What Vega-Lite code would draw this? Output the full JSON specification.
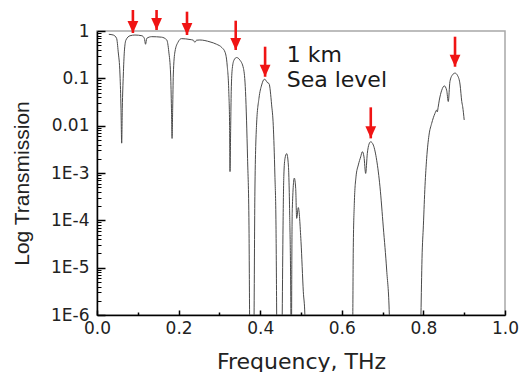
{
  "$schema": "https://vega.github.io/schema/vega-lite/v6.json",
  "width": 408,
  "height": 284,
  "autosize": "none",
  "padding": {"left": 97, "top": 31, "right": 15, "bottom": 57},
  "background": "white",
  "config": {"view": {"stroke": "#a8a8a8", "strokeWidth": 1.5}, "axis": {"grid": false}},
  "datasets": {
    "curve": [
      {"f": 0.029, "t": 0.851}, {"f": 0.040, "t": 0.822}, {"f": 0.048, "t": 0.700}, {"f": 0.052, "t": 0.363},
      {"f": 0.0564, "t": 0.1175}, {"f": 0.0588, "t": 0.0234}, {"f": 0.0605, "t": 0.00427}, {"f": 0.062, "t": 0.0234},
      {"f": 0.0645, "t": 0.1175}, {"f": 0.067, "t": 0.363}, {"f": 0.071, "t": 0.646}, {"f": 0.081, "t": 0.794},
      {"f": 0.093, "t": 0.822}, {"f": 0.110, "t": 0.794}, {"f": 0.116, "t": 0.700}, {"f": 0.119, "t": 0.525},
      {"f": 0.122, "t": 0.700}, {"f": 0.134, "t": 0.759}, {"f": 0.158, "t": 0.741}, {"f": 0.171, "t": 0.646},
      {"f": 0.176, "t": 0.363}, {"f": 0.1805, "t": 0.1175}, {"f": 0.1825, "t": 0.0234}, {"f": 0.184, "t": 0.00537},
      {"f": 0.1855, "t": 0.0234}, {"f": 0.187, "t": 0.1175}, {"f": 0.191, "t": 0.363}, {"f": 0.199, "t": 0.589},
      {"f": 0.207, "t": 0.69}, {"f": 0.228, "t": 0.661}, {"f": 0.236, "t": 0.64}, {"f": 0.240, "t": 0.575},
      {"f": 0.244, "t": 0.64}, {"f": 0.252, "t": 0.646}, {"f": 0.277, "t": 0.589}, {"f": 0.293, "t": 0.525},
      {"f": 0.306, "t": 0.447}, {"f": 0.314, "t": 0.355}, {"f": 0.319, "t": 0.191}, {"f": 0.323, "t": 0.0525},
      {"f": 0.325, "t": 0.0102}, {"f": 0.326, "t": 0.00107}, {"f": 0.3277, "t": 0.0102}, {"f": 0.329, "t": 0.0525},
      {"f": 0.3316, "t": 0.162}, {"f": 0.336, "t": 0.245}, {"f": 0.342, "t": 0.275}, {"f": 0.350, "t": 0.245},
      {"f": 0.359, "t": 0.162}, {"f": 0.364, "t": 0.0525}, {"f": 0.369, "t": 0.00204}, {"f": 0.3725, "t": 0.000079},
      {"f": 0.374, "t": 0.000001}, {"f": 0.376, "t": 0.00000001}, {"f": 0.383, "t": 0.00000001}, {"f": 0.385, "t": 0.000001},
      {"f": 0.387, "t": 0.000398}, {"f": 0.391, "t": 0.0102}, {"f": 0.397, "t": 0.038}, {"f": 0.4036, "t": 0.0724},
      {"f": 0.410, "t": 0.0955}, {"f": 0.414, "t": 0.091}, {"f": 0.417, "t": 0.0822}, {"f": 0.4216, "t": 0.0776},
      {"f": 0.428, "t": 0.0275}, {"f": 0.432, "t": 0.0102}, {"f": 0.436, "t": 0.00091}, {"f": 0.4387, "t": 0.000079},
      {"f": 0.4404, "t": 0.000001}, {"f": 0.442, "t": 0.00000001}, {"f": 0.452, "t": 0.00000001}, {"f": 0.454, "t": 0.000001},
      {"f": 0.456, "t": 0.000079}, {"f": 0.458, "t": 0.00091}, {"f": 0.4608, "t": 0.00204}, {"f": 0.465, "t": 0.00257},
      {"f": 0.469, "t": 0.00148}, {"f": 0.472, "t": 0.000178}, {"f": 0.4752, "t": 0.000001}, {"f": 0.4758, "t": 0.00000001},
      {"f": 0.4764, "t": 0.00000001}, {"f": 0.477, "t": 0.000001}, {"f": 0.4787, "t": 0.000178}, {"f": 0.4836, "t": 0.00078},
      {"f": 0.487, "t": 0.00047}, {"f": 0.4894, "t": 0.00011}, {"f": 0.4934, "t": 0.000186}, {"f": 0.500, "t": 0.0000355},
      {"f": 0.5057, "t": 0.0000031}, {"f": 0.5095, "t": 0.000001}, {"f": 0.512, "t": 0.00000001}, {"f": 0.625, "t": 0.00000001},
      {"f": 0.627, "t": 0.000001}, {"f": 0.628, "t": 0.00002}, {"f": 0.6307, "t": 0.000229}, {"f": 0.6348, "t": 0.00083},
      {"f": 0.6405, "t": 0.00148}, {"f": 0.6463, "t": 0.00219}, {"f": 0.6503, "t": 0.00282}, {"f": 0.6544, "t": 0.00219},
      {"f": 0.6585, "t": 0.00098}, {"f": 0.6625, "t": 0.00257}, {"f": 0.6667, "t": 0.00407}, {"f": 0.6708, "t": 0.00457},
      {"f": 0.6773, "t": 0.00389}, {"f": 0.6855, "t": 0.00186}, {"f": 0.6936, "t": 0.00051}, {"f": 0.7017, "t": 0.000072},
      {"f": 0.710, "t": 0.0000089}, {"f": 0.7165, "t": 0.000001}, {"f": 0.72, "t": 0.00000001}, {"f": 0.79, "t": 0.00000001},
      {"f": 0.794, "t": 0.000001}, {"f": 0.7966, "t": 0.0000155}, {"f": 0.800, "t": 0.000079}, {"f": 0.804, "t": 0.00055},
      {"f": 0.808, "t": 0.00204}, {"f": 0.8137, "t": 0.0063}, {"f": 0.8203, "t": 0.0112}, {"f": 0.8284, "t": 0.0182},
      {"f": 0.8326, "t": 0.0214}, {"f": 0.834, "t": 0.0195}, {"f": 0.836, "t": 0.024}, {"f": 0.839, "t": 0.0347},
      {"f": 0.845, "t": 0.0562}, {"f": 0.8513, "t": 0.0692}, {"f": 0.857, "t": 0.0562}, {"f": 0.861, "t": 0.0324},
      {"f": 0.865, "t": 0.0851}, {"f": 0.871, "t": 0.1175}, {"f": 0.8775, "t": 0.129}, {"f": 0.884, "t": 0.1135},
      {"f": 0.890, "t": 0.0724}, {"f": 0.894, "t": 0.0324}, {"f": 0.8963, "t": 0.0251}, {"f": 0.900, "t": 0.0132}
    ],
    "arrows": [
      {"f": 0.088, "top": 2.78, "tip": 0.908},
      {"f": 0.146, "top": 2.78, "tip": 1.05},
      {"f": 0.2206, "top": 2.56, "tip": 0.822},
      {"f": 0.340, "top": 1.65, "tip": 0.397},
      {"f": 0.412, "top": 0.466, "tip": 0.108},
      {"f": 0.671, "top": 0.0244, "tip": 0.00539},
      {"f": 0.8775, "top": 0.758, "tip": 0.176}
    ],
    "notes": [
      {"f": 0.465, "t": 0.2244, "label": "1 km"},
      {"f": 0.465, "t": 0.0645, "label": "Sea level"}
    ]
  },
  "layer": [
    {
      "data": {"name": "curve"},
      "mark": {"type": "line", "color": "#4a4a4a", "strokeWidth": 1, "clip": true, "interpolate": "monotone"},
      "encoding": {
        "x": {"field": "f", "type": "quantitative",
          "scale": {"domain": [0, 1], "nice": false, "zero": false},
          "axis": {"orient": "bottom", "values": [0, 0.2, 0.4, 0.6, 0.8, 1.0], "format": ".1f", "labelFlush": false,
            "tickSize": -5, "tickColor": "#000", "tickWidth": 1.5, "domainColor": "#000", "domainWidth": 1.5,
            "labelFont": "DejaVu Sans", "labelFontSize": 17, "labelColor": "#222", "labelBaseline": "alphabetic", "labelPadding": 23,
            "title": "Frequency, THz", "titleFont": "DejaVu Sans", "titleFontSize": 22, "titleFontWeight": "normal", "titleColor": "#222",
            "titleBaseline": "alphabetic", "titleX": 204, "titleY": 53}},
        "y": {"field": "t", "type": "quantitative",
          "scale": {"type": "log", "domain": [0.000001, 1], "nice": false},
          "axis": {"orient": "left", "values": [1, 0.1, 0.01, 0.001, 0.0001, 0.00001, 0.000001],
            "labelExpr": "datum.value > 0.5 ? '1' : datum.value > 0.05 ? '0.1' : datum.value > 0.005 ? '0.01' : '1E-' + round(-log(datum.value)/LN10)",
            "labelOverlap": false, "tickSize": -8, "tickColor": "#000", "tickWidth": 1.5, "domainColor": "#000", "domainWidth": 1.5,
            "labelFont": "DejaVu Sans", "labelFontSize": 17, "labelColor": "#222", "labelPadding": 16,
            "title": "Log Transmission", "titleFont": "Liberation Sans", "titleFontSize": 21, "titleFontWeight": "normal", "titleColor": "#222",
            "titleBaseline": "alphabetic", "titleX": -69, "titleY": 152}}
      }
    },
    {
      "data": {"name": "arrows"},
      "mark": {"type": "rule", "color": "#f01414", "strokeWidth": 2.6},
      "encoding": {
        "x": {"field": "f", "type": "quantitative",
          "axis": {"orient": "bottom", "values": [0.1, 0.3, 0.5, 0.7, 0.9], "labels": false, "domain": false, "tickSize": -3, "tickColor": "#000", "tickWidth": 1.5, "title": null}},
        "y": {"field": "top", "type": "quantitative",
          "axis": {"orient": "left", "labels": false, "domain": false, "tickSize": -4, "tickColor": "#000", "tickWidth": 1, "title": null,
            "values": [0.000002, 0.000003, 0.000004, 0.000005, 0.000006, 0.000007, 0.000008, 0.000009,
              0.00002, 0.00003, 0.00004, 0.00005, 0.00006, 0.00007, 0.00008, 0.00009,
              0.0002, 0.0003, 0.0004, 0.0005, 0.0006, 0.0007, 0.0008, 0.0009,
              0.002, 0.003, 0.004, 0.005, 0.006, 0.007, 0.008, 0.009,
              0.02, 0.03, 0.04, 0.05, 0.06, 0.07, 0.08, 0.09,
              0.2, 0.3, 0.4, 0.5, 0.6, 0.7, 0.8, 0.9]}},
        "y2": {"field": "tip"}
      }
    },
    {
      "data": {"name": "arrows"},
      "mark": {"type": "point", "shape": "M-0.9,-1L0.9,-1L0,1Z", "filled": true, "color": "#f01414", "opacity": 1, "size": 144, "yOffset": -6},
      "encoding": {
        "x": {"field": "f", "type": "quantitative", "axis": null},
        "y": {"field": "tip", "type": "quantitative", "axis": null}
      }
    },
    {
      "data": {"name": "notes"},
      "mark": {"type": "text", "align": "left", "baseline": "alphabetic", "font": "DejaVu Sans", "fontSize": 22, "color": "#1a1a1a"},
      "encoding": {
        "x": {"field": "f", "type": "quantitative", "axis": null},
        "y": {"field": "t", "type": "quantitative", "axis": null},
        "text": {"field": "label"}
      }
    }
  ],
  "resolve": {"axis": {"x": "independent", "y": "independent"}}
}
